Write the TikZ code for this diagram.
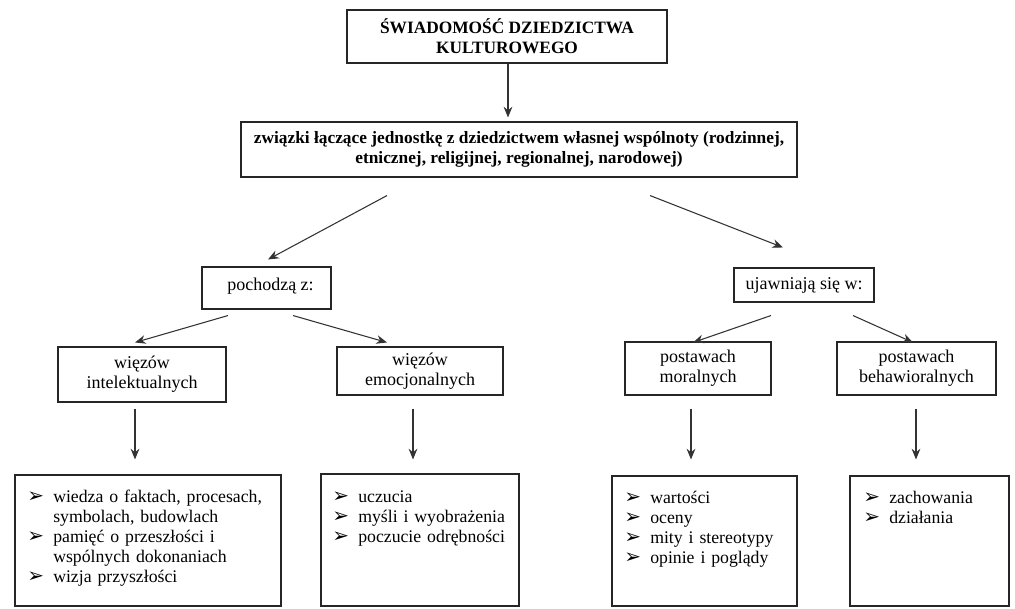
\documentclass[tikz,border=0pt]{standalone}
\usepackage{fontspec}
\setmainfont{Liberation Serif}
\newfontfamily\dv{DejaVu Sans}
\usetikzlibrary{arrows.meta,calc}
\tikzset{
  box/.style={draw=black!85, line width=0.8pt, inner sep=0pt, align=center,
    font=\fontsize{13.5}{15}\selectfont},
  bold/.style={font=\fontsize{13}{15}\selectfont\bfseries},
  arr/.style={draw=black!80, line width=0.8pt, -{Stealth[length=8pt,width=6.5pt]}},
  listtxt/.style={anchor=north west, inner sep=0pt,
    font=\fontsize{13.3}{15}\selectfont},
}
\newcommand\itm[1]{\par\noindent\hangindent=21pt\hangafter=1\makebox[21pt][l]{\hspace*{1.5pt}{\dv\fontsize{15}{12}\selectfont ➢}}#1}
\begin{document}
\begin{tikzpicture}[x=0.75pt,y=-0.75pt]
\useasboundingbox (0,0) rectangle (1015,608);
% boxes
\node[box, bold, minimum width=240pt, minimum height=39.75pt] (top) at (507,36.5)
  {ŚWIADOMOŚĆ DZIEDZICTWA\\KULTUROWEGO};
\node[box, bold, minimum width=417pt, minimum height=41.25pt] (sec) at (519,149.5)
  {związki łączące jednostkę z dziedzictwem własnej wspólnoty (rodzinnej,\\etnicznej, religijnej, regionalnej, narodowej)};
\node[box, minimum width=96.75pt, minimum height=31.5pt] (poch) at (266.5,288)
  {\raisebox{6pt}{\hspace*{6pt}pochodzą z:}};
\node[box, minimum width=105pt, minimum height=25.5pt] (ujaw) at (804,285)
  {\raisebox{1.5pt}{ujawniają się w:}};
\node[box, minimum width=126pt, minimum height=41.25pt] (wi) at (142,374.5)
  {więzów\\intelektualnych};
\node[box, minimum width=124.5pt, minimum height=36pt] (we) at (420,371)
  {więzów\\emocjonalnych};
\node[box, minimum width=109.5pt, minimum height=39.75pt] (pm) at (698,368.5)
  {postawach\\moralnych};
\node[box, minimum width=119.25pt, minimum height=39.75pt] (pb) at (916.5,368.5)
  {postawach\\behawioralnych};
\node[box, minimum width=199.5pt, minimum height=98.25pt] (b1) at (148,540.5) {};
\node[box, minimum width=148.5pt, minimum height=99pt] (b2) at (420,540) {};
\node[box, minimum width=138.75pt, minimum height=97.5pt] (b3) at (704.5,541) {};
\node[box, minimum width=119.25pt, minimum height=97.5pt] (b4) at (929.5,541) {};
% list texts
\node[listtxt, text width=190pt] (t1) at (25,482) {\raggedright
\itm{wiedza o faktach, procesach,\newline symbolach, budowlach}
\itm{pamięć o przeszłości i\newline wspólnych dokonaniach}
\itm{wizja przyszłości}};
\node[listtxt, text width=140pt] (t2) at (330,482) {\raggedright
\itm{uczucia}
\itm{myśli i wyobrażenia}
\itm{poczucie odrębności}};
\node[listtxt, text width=130pt] (t3) at (622,483) {\raggedright
\itm{wartości}
\itm{oceny}
\itm{mity i stereotypy}
\itm{opinie i poglądy}};
\node[listtxt, text width=112pt] (t4) at (861,483) {\raggedright
\itm{zachowania}
\itm{działania}};
% arrows
\draw[arr] ($(top.south)+(1,0)$) -- ($(sec.north)+(-11,-4)$);
\draw[arr] ($(sec.south)+(-132,18)$) -- ($(poch.north)+(1.5,-7)$);
\draw[arr] ($(sec.south)+(131,18)$) -- ($(ujaw.north)+(-21,-20)$);
\draw[arr] ($(poch.south)+(-38.5,6)$) -- ($(wi.north)+(-7,-4)$);
\draw[arr] ($(poch.south)+(26.5,6)$) -- ($(we.north)+(-33,-4)$);
\draw[arr] ($(ujaw.south)+(-33,13)$) -- ($(pm.north)+(-5,1)$);
\draw[arr] ($(ujaw.south)+(49,13)$) -- ($(pb.north)+(-3.5,1)$);
\draw[arr] ($(wi.south)+(-7,6)$) -- ($(b1.north)+(-13,-15)$);
\draw[arr] ($(we.south)+(-7,13)$) -- ($(b2.north)+(-7,-14)$);
\draw[arr] ($(pm.south)+(-7,13)$) -- ($(b3.north)+(-13.5,-16)$);
\draw[arr] ($(pb.south)+(-0.5,13)$) -- ($(b4.north)+(-13.5,-16)$);
\end{tikzpicture}
\end{document}
